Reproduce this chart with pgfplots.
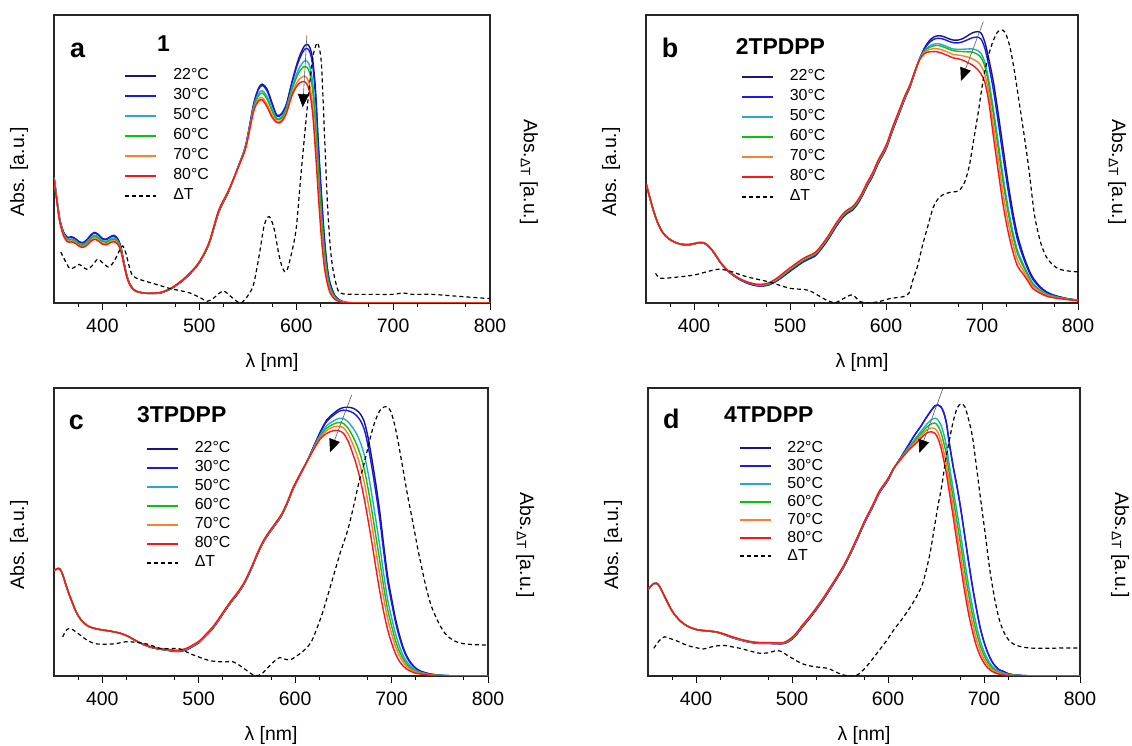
\documentclass[border=0pt]{standalone}
\usepackage{pgfplots}
\pgfplotsset{compat=1.18}
\usepackage{pgfplotstable}
\usepackage{fontspec}
\setmainfont{Liberation Sans}
\usetikzlibrary{arrows.meta}

\definecolor{c22}{RGB}{20,20,140}
\definecolor{c30}{RGB}{25,25,240}
\definecolor{c50}{RGB}{35,170,205}
\definecolor{c60}{RGB}{10,195,10}
\definecolor{c70}{RGB}{255,125,45}
\definecolor{c80}{RGB}{255,20,20}

% ---------------- panel a ----------------
\pgfplotstableread{
x n b c g o r
350 0.440 0.439 0.436 0.434 0.432 0.430
353 0.360 0.359 0.356 0.354 0.352 0.350
356 0.290 0.289 0.286 0.284 0.282 0.280
360 0.245 0.244 0.240 0.238 0.234 0.232
364 0.228 0.226 0.221 0.219 0.214 0.212
368 0.230 0.228 0.222 0.220 0.215 0.212
372 0.224 0.222 0.217 0.214 0.210 0.207
376 0.213 0.211 0.206 0.204 0.199 0.197
380 0.210 0.208 0.203 0.200 0.196 0.193
384 0.220 0.218 0.212 0.209 0.204 0.201
388 0.236 0.234 0.227 0.223 0.217 0.214
392 0.245 0.243 0.235 0.231 0.225 0.221
396 0.237 0.235 0.228 0.224 0.218 0.215
400 0.224 0.222 0.216 0.213 0.207 0.204
404 0.222 0.220 0.214 0.211 0.205 0.202
408 0.230 0.228 0.221 0.218 0.212 0.209
412 0.235 0.233 0.226 0.222 0.216 0.213
416 0.222 0.220 0.214 0.211 0.206 0.203
419 0.195 0.194 0.189 0.186 0.182 0.180
422 0.145 0.144 0.141 0.139 0.137 0.135
425 0.098 0.097 0.095 0.095 0.093 0.092
428 0.068 0.068 0.066 0.066 0.065 0.064
432 0.048 0.048 0.047 0.047 0.046 0.046
436 0.040 0.040 0.040 0.039 0.039 0.039
440 0.036 0.036 0.036 0.036 0.036 0.036
445 0.034 0.034 0.034 0.034 0.034 0.034
450 0.033 0.033 0.033 0.034 0.034 0.034
460 0.035 0.035 0.036 0.036 0.037 0.037
470 0.048 0.048 0.049 0.049 0.050 0.050
480 0.070 0.070 0.071 0.072 0.073 0.073
490 0.100 0.100 0.101 0.102 0.103 0.103
500 0.140 0.140 0.141 0.142 0.143 0.143
510 0.205 0.206 0.207 0.208 0.209 0.210
520 0.315 0.316 0.318 0.319 0.321 0.322
530 0.385 0.386 0.387 0.388 0.389 0.390
540 0.472 0.472 0.471 0.471 0.470 0.470
548 0.550 0.549 0.546 0.544 0.542 0.540
556 0.690 0.688 0.680 0.676 0.669 0.665
561 0.745 0.741 0.726 0.719 0.707 0.700
565 0.760 0.755 0.737 0.729 0.713 0.705
570 0.742 0.736 0.716 0.707 0.689 0.680
575 0.695 0.690 0.674 0.667 0.653 0.645
580 0.652 0.649 0.641 0.637 0.630 0.626
585 0.658 0.655 0.646 0.642 0.634 0.630
590 0.692 0.689 0.679 0.674 0.665 0.660
595 0.760 0.756 0.741 0.734 0.722 0.715
600 0.822 0.815 0.792 0.781 0.761 0.750
604 0.862 0.852 0.821 0.807 0.780 0.765
608 0.890 0.878 0.839 0.821 0.787 0.769
611 0.898 0.884 0.840 0.819 0.781 0.760
614 0.888 0.872 0.822 0.798 0.754 0.730
617 0.845 0.826 0.765 0.737 0.683 0.655
620 0.735 0.714 0.645 0.612 0.552 0.520
623 0.545 0.527 0.469 0.442 0.392 0.365
626 0.380 0.365 0.315 0.292 0.248 0.225
629 0.230 0.220 0.186 0.170 0.141 0.125
632 0.125 0.120 0.102 0.094 0.078 0.070
635 0.068 0.065 0.054 0.049 0.040 0.035
640 0.025 0.024 0.020 0.018 0.014 0.012
645 0.010 0.010 0.008 0.007 0.006 0.005
650 0.003 0.003 0.002 0.002 0.001 0.001
660 0 0 0 0 0 0
680 0 0 0 0 0 0
800 0 0 0 0 0 0
}\tabA
\pgfplotstableread{
x y
357 0.177
361 0.150
365 0.125
368 0.119
372 0.126
376 0.134
380 0.125
384 0.117
389 0.128
395 0.152
400 0.140
406 0.125
410 0.135
414 0.157
418 0.185
421 0.198
424 0.175
427 0.135
430 0.102
434 0.088
440 0.080
450 0.070
460 0.060
470 0.050
480 0.043
490 0.035
500 0.020
508 0.006
514 0.015
520 0.032
525 0.042
530 0.030
537 0.010
543 0.000
550 0.025
556 0.065
562 0.170
567 0.270
572 0.300
577 0.260
582 0.170
586 0.120
590 0.110
595 0.170
600 0.260
605 0.450
612 0.700
617 0.850
621 0.900
623 0.895
626 0.830
629 0.600
632 0.360
635 0.200
638 0.115
643 0.045
648 0.032
660 0.030
680 0.030
700 0.030
710 0.035
720 0.030
740 0.030
760 0.025
780 0.020
800 0.015
}\dtA

% ---------------- panel b ----------------
\pgfplotstableread{
x n b c g o r
350 0.416 0.416 0.416 0.416 0.416 0.416
354 0.365 0.365 0.365 0.365 0.365 0.365
358 0.318 0.318 0.318 0.318 0.318 0.318
362 0.280 0.280 0.280 0.280 0.280 0.280
366 0.252 0.252 0.252 0.253 0.252 0.252
370 0.234 0.234 0.234 0.235 0.234 0.234
375 0.220 0.220 0.220 0.221 0.220 0.220
380 0.211 0.211 0.211 0.212 0.211 0.211
385 0.205 0.205 0.205 0.206 0.205 0.205
390 0.202 0.202 0.202 0.204 0.203 0.203
395 0.202 0.202 0.202 0.204 0.203 0.203
400 0.205 0.205 0.205 0.207 0.206 0.206
406 0.209 0.209 0.209 0.211 0.210 0.210
410 0.208 0.208 0.208 0.210 0.209 0.209
414 0.200 0.200 0.200 0.202 0.201 0.201
418 0.186 0.186 0.186 0.188 0.187 0.187
422 0.168 0.168 0.168 0.170 0.169 0.169
428 0.138 0.138 0.139 0.140 0.139 0.139
435 0.112 0.112 0.113 0.114 0.113 0.113
443 0.091 0.091 0.093 0.094 0.093 0.093
450 0.077 0.077 0.079 0.080 0.080 0.080
458 0.066 0.066 0.069 0.070 0.070 0.070
465 0.060 0.060 0.063 0.064 0.064 0.065
470 0.059 0.059 0.062 0.063 0.064 0.065
477 0.062 0.062 0.065 0.066 0.068 0.069
485 0.074 0.075 0.078 0.079 0.081 0.083
492 0.090 0.091 0.095 0.096 0.099 0.101
500 0.110 0.112 0.116 0.117 0.120 0.122
507 0.127 0.129 0.133 0.134 0.137 0.139
514 0.143 0.145 0.149 0.150 0.153 0.155
520 0.153 0.155 0.159 0.160 0.163 0.165
526 0.163 0.165 0.169 0.170 0.173 0.175
532 0.185 0.187 0.191 0.192 0.195 0.197
540 0.222 0.224 0.228 0.229 0.232 0.234
548 0.265 0.267 0.271 0.272 0.275 0.277
555 0.297 0.299 0.303 0.304 0.307 0.309
560 0.312 0.314 0.318 0.319 0.322 0.324
565 0.322 0.324 0.328 0.329 0.332 0.334
570 0.342 0.344 0.348 0.349 0.352 0.354
575 0.370 0.372 0.376 0.377 0.380 0.382
580 0.404 0.406 0.410 0.411 0.414 0.416
586 0.440 0.442 0.446 0.447 0.450 0.452
592 0.485 0.487 0.491 0.492 0.495 0.497
600 0.535 0.537 0.541 0.542 0.545 0.547
607 0.600 0.602 0.606 0.607 0.610 0.612
614 0.660 0.662 0.666 0.667 0.670 0.672
620 0.712 0.714 0.717 0.718 0.720 0.722
625 0.750 0.751 0.754 0.755 0.756 0.758
630 0.800 0.801 0.803 0.803 0.804 0.805
635 0.848 0.848 0.847 0.846 0.845 0.845
640 0.885 0.882 0.876 0.874 0.870 0.866
645 0.910 0.904 0.891 0.887 0.880 0.872
650 0.924 0.916 0.899 0.893 0.883 0.873
655 0.928 0.919 0.900 0.894 0.882 0.871
660 0.925 0.916 0.895 0.889 0.877 0.865
665 0.918 0.909 0.888 0.882 0.870 0.858
670 0.913 0.904 0.882 0.876 0.863 0.851
675 0.913 0.903 0.881 0.874 0.861 0.848
680 0.918 0.907 0.881 0.873 0.858 0.843
685 0.928 0.914 0.882 0.872 0.854 0.835
690 0.938 0.921 0.882 0.871 0.848 0.826
695 0.942 0.923 0.877 0.864 0.838 0.812
699 0.937 0.916 0.866 0.852 0.823 0.795
703 0.905 0.884 0.835 0.821 0.793 0.765
707 0.848 0.826 0.774 0.759 0.730 0.700
712 0.765 0.737 0.670 0.651 0.613 0.575
717 0.655 0.625 0.555 0.535 0.495 0.455
722 0.537 0.507 0.439 0.419 0.379 0.340
727 0.420 0.395 0.335 0.318 0.284 0.250
732 0.318 0.297 0.249 0.235 0.208 0.180
737 0.235 0.219 0.182 0.171 0.149 0.128
743 0.167 0.157 0.134 0.127 0.113 0.100
748 0.122 0.115 0.099 0.094 0.084 0.075
753 0.088 0.082 0.069 0.065 0.058 0.050
760 0.058 0.055 0.047 0.044 0.040 0.035
767 0.039 0.037 0.032 0.030 0.027 0.024
775 0.027 0.026 0.023 0.022 0.020 0.018
788 0.016 0.015 0.014 0.014 0.013 0.012
800 0.010 0.010 0.009 0.009 0.008 0.008
}\tabB
\pgfplotstableread{
x y
360 0.103
365 0.086
380 0.089
400 0.097
415 0.110
425 0.117
436 0.112
455 0.091
477 0.074
500 0.051
515 0.047
522 0.040
530 0.025
538 0.010
547 0.001
556 0.016
565 0.028
573 0.005
582 0.000
593 0.005
605 0.016
618 0.022
624 0.035
628 0.080
633 0.130
638 0.200
643 0.260
649 0.330
655 0.365
662 0.380
670 0.386
676 0.390
682 0.420
687 0.480
691 0.560
696 0.660
701 0.770
706 0.850
711 0.905
716 0.940
720 0.948
724 0.940
729 0.890
734 0.800
739 0.690
744 0.580
749 0.460
754 0.320
758 0.250
762 0.200
767 0.160
773 0.135
780 0.118
790 0.111
800 0.108
}\dtB

% ---------------- panel c ----------------
\pgfplotstableread{
x n b c g o r
350 0.365 0.365 0.365 0.365 0.365 0.365
353 0.372 0.372 0.372 0.372 0.372 0.372
356 0.372 0.372 0.372 0.372 0.372 0.372
359 0.352 0.352 0.352 0.352 0.352 0.352
362 0.320 0.320 0.320 0.320 0.320 0.320
365 0.290 0.290 0.290 0.290 0.290 0.290
369 0.255 0.255 0.255 0.255 0.255 0.255
373 0.222 0.222 0.222 0.222 0.222 0.222
378 0.195 0.195 0.195 0.195 0.195 0.195
384 0.176 0.176 0.176 0.176 0.176 0.176
390 0.167 0.167 0.167 0.167 0.167 0.167
398 0.161 0.161 0.161 0.161 0.161 0.161
406 0.157 0.157 0.157 0.157 0.157 0.157
414 0.152 0.152 0.152 0.152 0.152 0.152
420 0.147 0.147 0.147 0.147 0.147 0.147
426 0.139 0.139 0.139 0.139 0.139 0.139
432 0.128 0.128 0.128 0.128 0.128 0.128
438 0.117 0.117 0.117 0.117 0.117 0.117
445 0.106 0.106 0.106 0.107 0.107 0.107
452 0.098 0.098 0.099 0.099 0.100 0.100
460 0.093 0.093 0.094 0.094 0.095 0.095
468 0.089 0.089 0.090 0.091 0.091 0.092
476 0.085 0.085 0.087 0.088 0.088 0.089
482 0.086 0.086 0.088 0.089 0.090 0.091
488 0.092 0.092 0.094 0.095 0.096 0.097
494 0.103 0.103 0.105 0.106 0.107 0.108
500 0.115 0.115 0.117 0.118 0.119 0.120
507 0.138 0.138 0.140 0.141 0.142 0.143
514 0.163 0.163 0.165 0.166 0.167 0.168
520 0.190 0.190 0.192 0.193 0.194 0.195
527 0.225 0.225 0.227 0.228 0.229 0.230
534 0.258 0.258 0.260 0.261 0.262 0.263
541 0.288 0.288 0.290 0.291 0.292 0.293
548 0.325 0.325 0.327 0.328 0.329 0.330
555 0.375 0.375 0.377 0.378 0.379 0.380
562 0.430 0.430 0.432 0.433 0.434 0.435
568 0.470 0.470 0.472 0.473 0.474 0.475
574 0.500 0.500 0.502 0.503 0.504 0.505
580 0.528 0.528 0.530 0.531 0.532 0.533
586 0.557 0.557 0.559 0.560 0.561 0.562
592 0.600 0.600 0.602 0.603 0.604 0.605
598 0.650 0.650 0.652 0.653 0.654 0.655
605 0.697 0.697 0.698 0.699 0.700 0.700
612 0.743 0.743 0.743 0.743 0.743 0.743
619 0.795 0.794 0.791 0.789 0.787 0.785
626 0.847 0.845 0.837 0.832 0.828 0.823
633 0.890 0.885 0.870 0.861 0.853 0.843
640 0.912 0.906 0.886 0.875 0.865 0.852
645 0.925 0.918 0.894 0.880 0.867 0.852
650 0.932 0.923 0.894 0.877 0.862 0.843
655 0.933 0.921 0.882 0.860 0.840 0.815
660 0.930 0.914 0.861 0.831 0.804 0.770
664 0.922 0.903 0.839 0.802 0.769 0.728
668 0.908 0.885 0.808 0.764 0.724 0.675
672 0.880 0.853 0.764 0.713 0.667 0.610
676 0.822 0.793 0.699 0.644 0.595 0.535
680 0.745 0.716 0.620 0.565 0.516 0.455
684 0.660 0.631 0.535 0.480 0.431 0.370
688 0.565 0.538 0.447 0.395 0.348 0.290
692 0.450 0.427 0.351 0.307 0.268 0.220
696 0.345 0.327 0.265 0.230 0.199 0.160
700 0.270 0.255 0.203 0.174 0.148 0.115
704 0.200 0.188 0.148 0.124 0.104 0.078
708 0.145 0.136 0.105 0.087 0.072 0.052
712 0.100 0.094 0.072 0.060 0.049 0.035
716 0.068 0.064 0.049 0.040 0.032 0.023
720 0.046 0.043 0.033 0.027 0.022 0.016
725 0.028 0.026 0.020 0.017 0.014 0.010
730 0.017 0.016 0.013 0.011 0.009 0.007
740 0.007 0.007 0.005 0.005 0.004 0.003
750 0.003 0.003 0.002 0.002 0.001 0.001
760 0.001 0.001 0.001 0 0 0
780 0 0 0 0 0 0
800 0 0 0 0 0 0
}\tabC
\pgfplotstableread{
x y
359 0.136
363 0.160
367 0.165
372 0.155
378 0.140
384 0.125
390 0.115
395 0.111
405 0.110
415 0.113
425 0.119
435 0.117
444 0.113
452 0.105
460 0.096
470 0.095
478 0.096
484 0.090
490 0.079
497 0.070
505 0.060
512 0.053
520 0.050
528 0.049
535 0.050
542 0.038
549 0.021
556 0.005
562 0.002
567 0.012
572 0.030
578 0.050
584 0.064
590 0.058
595 0.056
600 0.066
606 0.080
612 0.098
617 0.120
622 0.160
628 0.215
633 0.270
640 0.350
647 0.430
654 0.500
660 0.580
666 0.670
671 0.730
676 0.800
681 0.865
686 0.910
690 0.930
695 0.935
699 0.920
703 0.875
707 0.810
712 0.715
717 0.620
722 0.535
727 0.445
732 0.365
736 0.305
741 0.245
746 0.205
750 0.177
755 0.150
760 0.133
767 0.119
775 0.112
785 0.109
800 0.107
}\dtC

% ---------------- panel d ----------------
\pgfplotstableread{
x n b c g o r
350 0.300 0.300 0.300 0.300 0.300 0.300
353 0.312 0.312 0.312 0.312 0.312 0.312
356 0.321 0.321 0.321 0.321 0.321 0.321
359 0.322 0.322 0.322 0.322 0.322 0.322
362 0.311 0.311 0.311 0.311 0.311 0.311
366 0.285 0.285 0.285 0.285 0.285 0.285
370 0.258 0.258 0.258 0.258 0.258 0.258
374 0.232 0.232 0.232 0.232 0.232 0.232
378 0.212 0.212 0.212 0.212 0.212 0.212
384 0.190 0.190 0.190 0.190 0.190 0.190
390 0.175 0.175 0.175 0.175 0.175 0.175
396 0.166 0.166 0.166 0.166 0.166 0.166
402 0.160 0.160 0.160 0.160 0.160 0.160
410 0.157 0.157 0.157 0.157 0.157 0.157
418 0.154 0.154 0.154 0.154 0.155 0.155
424 0.150 0.150 0.150 0.151 0.151 0.151
430 0.143 0.143 0.144 0.144 0.145 0.145
437 0.134 0.134 0.135 0.136 0.136 0.137
445 0.126 0.126 0.127 0.128 0.128 0.129
452 0.120 0.120 0.121 0.122 0.122 0.123
460 0.115 0.115 0.116 0.117 0.117 0.118
468 0.113 0.113 0.114 0.115 0.115 0.116
476 0.113 0.113 0.114 0.115 0.115 0.116
484 0.112 0.112 0.113 0.114 0.114 0.115
490 0.112 0.112 0.113 0.114 0.114 0.115
495 0.117 0.117 0.119 0.120 0.121 0.122
500 0.128 0.128 0.131 0.132 0.133 0.134
505 0.145 0.145 0.148 0.149 0.150 0.151
510 0.167 0.167 0.170 0.171 0.172 0.173
517 0.195 0.195 0.198 0.199 0.200 0.201
524 0.225 0.225 0.228 0.229 0.230 0.231
532 0.262 0.262 0.265 0.266 0.267 0.268
539 0.298 0.298 0.301 0.302 0.303 0.304
547 0.340 0.340 0.343 0.344 0.345 0.346
554 0.379 0.379 0.382 0.383 0.384 0.385
561 0.425 0.425 0.428 0.429 0.430 0.431
569 0.483 0.483 0.486 0.487 0.488 0.489
576 0.535 0.535 0.538 0.539 0.540 0.541
584 0.587 0.587 0.590 0.591 0.592 0.593
591 0.636 0.636 0.639 0.640 0.641 0.642
600 0.680 0.680 0.683 0.684 0.685 0.686
606 0.720 0.720 0.721 0.721 0.722 0.722
614 0.762 0.762 0.759 0.758 0.756 0.755
621 0.800 0.800 0.792 0.789 0.785 0.782
628 0.838 0.838 0.823 0.817 0.811 0.805
634 0.866 0.866 0.848 0.840 0.832 0.825
640 0.898 0.898 0.873 0.863 0.853 0.843
645 0.922 0.922 0.889 0.875 0.861 0.848
649 0.938 0.938 0.895 0.878 0.859 0.842
652 0.941 0.941 0.889 0.868 0.846 0.825
655 0.935 0.935 0.872 0.847 0.820 0.795
658 0.915 0.915 0.841 0.811 0.780 0.750
661 0.875 0.875 0.796 0.765 0.732 0.700
664 0.805 0.805 0.729 0.698 0.666 0.635
668 0.725 0.725 0.646 0.615 0.582 0.550
672 0.655 0.655 0.567 0.532 0.495 0.460
676 0.575 0.575 0.485 0.449 0.411 0.375
680 0.485 0.485 0.397 0.362 0.325 0.290
684 0.395 0.395 0.314 0.282 0.247 0.215
688 0.310 0.310 0.240 0.212 0.183 0.155
692 0.235 0.235 0.177 0.153 0.128 0.105
696 0.168 0.168 0.124 0.106 0.088 0.070
700 0.118 0.118 0.085 0.072 0.058 0.045
704 0.080 0.080 0.057 0.047 0.037 0.028
708 0.052 0.052 0.036 0.030 0.023 0.017
712 0.033 0.033 0.023 0.019 0.014 0.010
716 0.021 0.021 0.014 0.012 0.009 0.006
720 0.016 0.016 0.011 0.008 0.006 0.004
726 0.007 0.007 0.005 0.004 0.003 0.002
735 0.003 0.003 0.002 0.002 0.001 0.001
745 0.001 0.001 0 0 0 0
760 0 0 0 0 0 0
800 0 0 0 0 0 0
}\tabD
\pgfplotstableread{
x y
356 0.096
361 0.120
367 0.136
373 0.130
380 0.122
388 0.110
395 0.102
402 0.097
408 0.094
414 0.099
420 0.104
430 0.106
438 0.101
446 0.096
455 0.088
464 0.080
470 0.079
476 0.081
482 0.087
486 0.088
490 0.083
495 0.072
502 0.058
509 0.045
516 0.037
524 0.032
532 0.029
538 0.026
545 0.015
552 0.005
558 0.001
565 0.000
570 0.008
576 0.027
583 0.055
591 0.090
599 0.125
606 0.160
614 0.195
621 0.228
627 0.260
632 0.290
636 0.320
640 0.370
644 0.430
648 0.510
652 0.590
656 0.660
660 0.750
664 0.820
668 0.885
672 0.930
676 0.945
680 0.935
684 0.890
688 0.830
692 0.730
697 0.600
701 0.500
706 0.370
711 0.270
716 0.195
721 0.150
727 0.120
734 0.106
745 0.098
760 0.096
780 0.097
800 0.097
}\dtD

\tikzset{
  arr/.style={black!65, line width=0.6bp, -{Triangle[length=13bp, width=11bp, color=black]}},
  letter/.style={font=\fontsize{27}{30}\selectfont\bfseries, inner sep=0pt, anchor=base west},
  ttl/.style={font=\fontsize{23}{26}\selectfont\bfseries, inner sep=0pt, anchor=base west},
  rlab/.style={font=\fontsize{19.5}{22}\selectfont, rotate=-90, anchor=center},
}

\pgfplotsset{
  legend image code/.code={\draw[#1, line width=1.8bp] (0bp,0bp) -- (31bp,0bp);},
  panel/.style={
    scale only axis, height=288bp, anchor=south west,
    xmin=350, xmax=800, ymin=0, ymax=1,
    xtick={400,500,600,700,800}, minor xtick={375,425,...,775}, ytick=\empty,
    xtick pos=left, tick align=outside,
    major tick length=7bp, minor tick length=4bp,
    tick style={black, line width=1bp},
    axis line style={black!85, line width=1.3bp},
    /pgf/number format/assume math mode=true,
    xticklabel style={font=\fontsize{19.5}{22}\selectfont, yshift=-5bp},
    label style={font=\fontsize{19.5}{22}\selectfont},
    xlabel={λ [nm]}, ylabel={Abs. [a.u.]},
    xlabel style={at={(axis description cs:0.5,-0.205)}, anchor=center},
    legend cell align=left,
    legend style={draw=none, fill=none, anchor=north west, inner sep=0pt, outer sep=0pt,
      nodes={inner sep=0pt, text height=12bp, text depth=4bp},
      font=\fontsize{16}{18}\selectfont,
      /tikz/every odd column/.append style={column sep=16bp}},
    clip mode=individual,
  },
  tcurve/.style={line width=1.4bp, smooth},
  dcurve/.style={black, line width=1.2bp, dash pattern=on 4bp off 3bp, smooth},
}

\newcommand{\tcurves}[1]{%
  \addplot[c22, tcurve] table[x=x,y=n] {#1};
  \addplot[c30, tcurve] table[x=x,y=b] {#1};
  \addplot[c50, tcurve] table[x=x,y=c] {#1};
  \addplot[c60, tcurve] table[x=x,y=g] {#1};
  \addplot[c70, tcurve] table[x=x,y=o] {#1};
  \addplot[c80, tcurve] table[x=x,y=r] {#1};
}

\begin{document}
\begin{tikzpicture}[x=1bp,y=1bp]
\useasboundingbox (0,0) rectangle (1132,746);

% ---- a ----
\begin{axis}[panel, at={(54bp,443bp)}, width=436bp,
  ylabel style={at={(axis description cs:-0.0803,0.455)}, anchor=center},
  legend style={at={(0.1617,0.816)}, row sep=4bp}]
\tcurves{\tabA}
\addplot[dcurve] table[x=x,y=y] {\dtA};
\legend{22°C,30°C,50°C,60°C,70°C,80°C,ΔT}
\draw[arr] (axis cs:611,0.93) -- (axis cs:606.7,0.68);
\node[letter] at (axis description cs:0.0367,0.854) {a};
\node[ttl] at (axis description cs:0.236,0.872) {1};
\node[rlab] at (axis description cs:1.0894,0.455) {Abs.\textsubscript{ΔT} [a.u.]};
\end{axis}

% ---- b ----
\begin{axis}[panel, at={(646bp,443bp)}, width=432bp,
  ylabel style={at={(axis description cs:-0.081,0.455)}, anchor=center},
  legend style={at={(0.2199,0.8125)}, row sep=4bp}]
\tcurves{\tabB}
\addplot[dcurve] table[x=x,y=y] {\dtB};
\legend{22°C,30°C,50°C,60°C,70°C,80°C,ΔT}
\draw[arr] (axis cs:701.4,0.977) -- (axis cs:678.1,0.771);
\node[letter] at (axis description cs:0.0363,0.853) {b};
\node[ttl] at (axis description cs:0.2076,0.8635) {2TPDPP};
\node[rlab] at (axis description cs:1.0903,0.455) {Abs.\textsubscript{ΔT} [a.u.]};
\end{axis}

% ---- c ----
\begin{axis}[panel, at={(54bp,70bp)}, width=434bp,
  ylabel style={at={(axis description cs:-0.0806,0.455)}, anchor=center},
  legend style={at={(0.212,0.816)}, row sep=3bp}]
\tcurves{\tabC}
\addplot[dcurve] table[x=x,y=y] {\dtC};
\legend{22°C,30°C,50°C,60°C,70°C,80°C,ΔT}
\draw[arr] (axis cs:658.7,0.976) -- (axis cs:636.2,0.777);
\node[letter] at (axis description cs:0.0336,0.8576) {c};
\node[ttl] at (axis description cs:0.1912,0.8785) {3TPDPP};
\node[rlab] at (axis description cs:1.0853,0.455) {Abs.\textsubscript{ΔT} [a.u.]};
\end{axis}

% ---- d ----
\begin{axis}[panel, at={(648bp,70bp)}, width=432bp,
  ylabel style={at={(axis description cs:-0.081,0.455)}, anchor=center},
  legend style={at={(0.2097,0.819)}, row sep=2bp}]
\tcurves{\tabD}
\addplot[dcurve] table[x=x,y=y] {\dtD};
\legend{22°C,30°C,50°C,60°C,70°C,80°C,ΔT}
\draw[arr] (axis cs:657,0.997) -- (axis cs:632.6,0.775);
\node[letter] at (axis description cs:0.0343,0.861) {d};
\node[ttl] at (axis description cs:0.1759,0.8785) {4TPDPP};
\node[rlab] at (axis description cs:1.0926,0.455) {Abs.\textsubscript{ΔT} [a.u.]};
\end{axis}
\end{tikzpicture}
\end{document}
